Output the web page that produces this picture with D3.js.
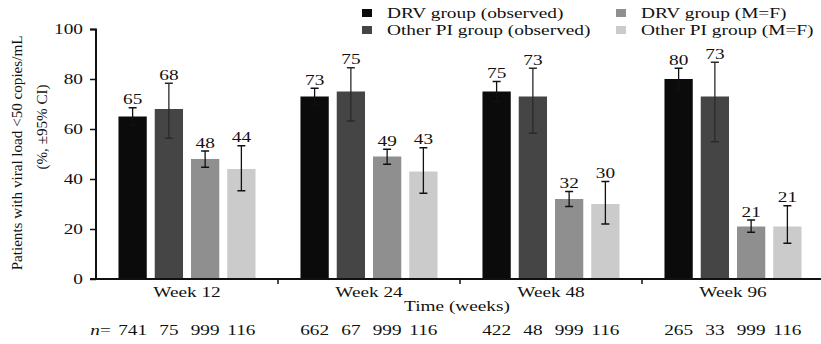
<!DOCTYPE html>
<html>
<head>
<meta charset="utf-8">
<script src="https://cdn.jsdelivr.net/npm/d3@7"></script>
<style>
  body { margin: 0; background: #fff; }
  text { font-family: "Liberation Serif", "DejaVu Serif", serif; fill: #111; }
</style>
</head>
<body>
<div id="chart"></div>
<script>
var svgWidth = 821;
var svgHeight = 344;

// data
var weeks = ["Week 12", "Week 24", "Week 48", "Week 96"];
var seriesNames = ["DRV group (observed)", "Other PI group (observed)", "DRV group (M=F)", "Other PI group (M=F)"];
var seriesColors = ["#0b0b0b", "#454545", "#8f8f8f", "#cbcbcb"];
var values = [
  [65, 68, 48, 44],
  [73, 75, 49, 43],
  [75, 73, 32, 30],
  [80, 73, 21, 21]
];
var ciLow = [
  [61.5, 56.3, 44.7, 35.3],
  [69.5, 63.2, 45.9, 34.3],
  [71, 58.3, 29, 22],
  [75.6, 54.9, 18.7, 14.3]
];
var ciHigh = [
  [68.5, 78.3, 51.2, 53.3],
  [76.3, 84.5, 51.9, 52.5],
  [79, 84.3, 35, 39],
  [84.3, 86.7, 23.6, 29.3]
];
var nCounts = [
  [741, 75, 999, 116],
  [662, 67, 999, 116],
  [422, 48, 999, 116],
  [265, 33, 999, 116]
];
var yTicks = [0, 20, 40, 60, 80, 100];

// the type in the original is a wide Times, so stretch it sideways
var SX = 1.33;
var FS = "14.5px";

var margin = { top: 29, right: -3, bottom: 65, left: 96 };
var width = svgWidth - margin.left - margin.right;
var height = svgHeight - margin.top - margin.bottom;

var svg = d3.select("#chart")
  .append("svg")
  .attr("width", svgWidth)
  .attr("height", svgHeight);

var chartGroup = svg.append("g")
  .attr("transform", `translate(${margin.left}, ${margin.top})`);

// scales
var x0 = d3.scaleBand().domain(weeks).range([0, width]);
var x1 = d3.scaleBand().domain(d3.range(seriesNames.length))
  .range([0, x0.bandwidth()])
  .paddingInner(0.22)
  .paddingOuter(0.62);
var y = d3.scaleLinear().domain([0, 100]).range([height, 0]);

// rows of records for drawing
var rows = [];
weeks.forEach(function(w, i) {
  seriesNames.forEach(function(s, j) {
    rows.push({ week: w, s: j, v: values[i][j], lo: ciLow[i][j], hi: ciHigh[i][j], n: nCounts[i][j] });
  });
});

var cx = function(d) { return x0(d.week) + x1(d.s) + x1.bandwidth() / 2; };
var stretch = function(x, y) { return `translate(${x},${y}) scale(${SX},1)`; };

// bars
chartGroup.selectAll("rect.bar")
  .data(rows)
  .enter()
  .append("rect")
  .attr("class", "bar")
  .attr("x", d => x0(d.week) + x1(d.s))
  .attr("y", d => y(d.v))
  .attr("width", x1.bandwidth())
  .attr("height", d => y(0) - y(d.v))
  .attr("fill", d => seriesColors[d.s]);

// error bars
var errColor = function(d) { return d.s === 1 ? "#2a2a2a" : "#111"; };
var err = chartGroup.selectAll("g.err")
  .data(rows)
  .enter()
  .append("g")
  .attr("class", "err");
err.append("line")
  .attr("x1", cx).attr("x2", cx)
  .attr("y1", d => y(d.lo)).attr("y2", d => y(d.hi))
  .attr("stroke", errColor).attr("stroke-width", 1.3);
err.append("line")
  .attr("x1", d => cx(d) - 4).attr("x2", d => cx(d) + 4)
  .attr("y1", d => y(d.hi)).attr("y2", d => y(d.hi))
  .attr("stroke", errColor).attr("stroke-width", 1.5);
err.append("line")
  .attr("x1", d => cx(d) - 4).attr("x2", d => cx(d) + 4)
  .attr("y1", d => y(d.lo)).attr("y2", d => y(d.lo))
  .attr("stroke", errColor).attr("stroke-width", 1.5);

// value labels
chartGroup.selectAll("text.val")
  .data(rows)
  .enter()
  .append("text")
  .attr("class", "val")
  .attr("transform", d => stretch(cx(d), y(d.hi) - 3.5))
  .attr("text-anchor", "middle")
  .attr("font-size", FS)
  .text(d => d.v);

// axes
var leftAxis = d3.axisLeft(y).tickValues(yTicks).tickSize(6).tickPadding(6);
var yAxisG = chartGroup.append("g").call(leftAxis);
yAxisG.select(".domain").attr("stroke", "#111").attr("stroke-width", 2).attr("d", `M-6,0.5H0V${height + 1}`);
yAxisG.selectAll(".tick line").attr("stroke", "#111").attr("stroke-width", 1.5);
yAxisG.selectAll(".tick text")
  .attr("x", -13 / SX)
  .attr("transform", `scale(${SX},1)`)
  .attr("font-size", FS)
  .attr("font-family", "Liberation Serif, serif")
  .attr("fill", "#111");

var xAxisG = chartGroup.append("g").attr("transform", `translate(0, ${height})`);
xAxisG.append("line")
  .attr("x1", -6).attr("x2", width)
  .attr("y1", 0).attr("y2", 0)
  .attr("stroke", "#111").attr("stroke-width", 2);
xAxisG.selectAll("line.sep")
  .data(weeks.slice(1))
  .enter()
  .append("line")
  .attr("class", "sep")
  .attr("x1", d => x0(d)).attr("x2", d => x0(d))
  .attr("y1", 0).attr("y2", 5)
  .attr("stroke", "#111").attr("stroke-width", 1.5);
xAxisG.selectAll("text.week")
  .data(weeks)
  .enter()
  .append("text")
  .attr("class", "week")
  .attr("transform", d => stretch(x0(d) + x0.bandwidth() / 2, 18))
  .attr("text-anchor", "middle")
  .attr("font-size", FS)
  .text(d => d);

// axis titles
chartGroup.append("text")
  .attr("transform", stretch(width / 2 - 3, height + 32))
  .attr("text-anchor", "middle")
  .attr("font-size", FS)
  .text("Time (weeks)");

svg.append("text")
  .attr("transform", "translate(22, 153) rotate(-90) scale(1.08,1)")
  .attr("text-anchor", "middle")
  .attr("font-size", "14px")
  .text("Patients with viral load <50 copies/mL");
svg.append("text")
  .attr("transform", "translate(47, 127) rotate(-90) scale(1.08,1)")
  .attr("text-anchor", "middle")
  .attr("font-size", "14px")
  .text("(%, \u00b195% CI)");

// n counts row
chartGroup.append("text")
  .attr("transform", stretch(4, height + 56))
  .attr("font-size", FS)
  .text("=");
chartGroup.append("text")
  .attr("transform", stretch(4, height + 56))
  .attr("text-anchor", "end")
  .attr("font-size", FS)
  .attr("font-style", "italic")
  .text("n");
chartGroup.selectAll("text.n")
  .data(rows)
  .enter()
  .append("text")
  .attr("class", "n")
  .attr("transform", d => stretch(cx(d), height + 56))
  .attr("text-anchor", "middle")
  .attr("font-size", FS)
  .text(d => d.n);

// legend
var legendPos = [[362, 18], [362, 35], [616, 18], [616, 35]];
var legend = svg.selectAll("g.legend")
  .data(seriesNames)
  .enter()
  .append("g")
  .attr("class", "legend")
  .attr("transform", (d, i) => `translate(${legendPos[i][0]}, ${legendPos[i][1]})`);
legend.append("rect")
  .attr("x", 0).attr("y", -9)
  .attr("width", 10).attr("height", 8)
  .attr("fill", (d, i) => seriesColors[i]);
legend.append("text")
  .attr("transform", `translate(25,0) scale(1.29,1)`)
  .attr("font-size", "15px")
  .text(d => d);
</script>
</body>
</html>
